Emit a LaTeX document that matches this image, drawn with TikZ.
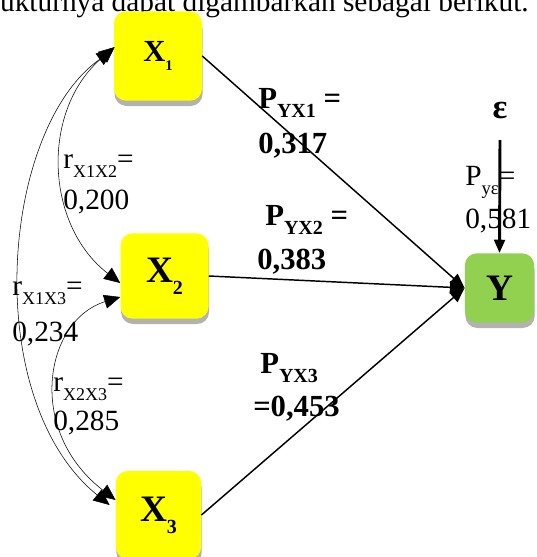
\documentclass[tikz,border=0pt]{standalone}
\usepackage{fontspec}
\setmainfont{Liberation Serif}
\usepackage{xcolor}
\usetikzlibrary{arrows.meta,shadows,calc}

\definecolor{boxyellow}{HTML}{FFFF00}
\definecolor{boxgreen}{HTML}{92D050}
\newcommand{\lsub}[2][15]{\raisebox{-0.32em}{\fontsize{#1}{#1}\selectfont #2}}

\begin{document}
\begin{tikzpicture}[
  x=0.75pt, y=-0.75pt,
  var/.style={fill=boxyellow, rounded corners=9pt, inner sep=0pt, align=center,
              minimum width=66pt, minimum height=66pt,
              font=\bfseries\fontsize{28}{28}\selectfont,
              drop shadow={shadow xshift=0.4pt, shadow yshift=-4pt, fill=black!30, opacity=1}},
  outvar/.style={var, fill=boxgreen, minimum width=52pt, minimum height=52pt},
  rlbl/.style={anchor=base west, inner sep=0pt, font=\fontsize{22}{22}\selectfont},
  plbl/.style={anchor=base west, inner sep=0pt, font=\bfseries\fontsize{23}{23}\selectfont},
  effect/.style={-{Triangle[length=11pt,width=9pt]}, line width=1.1pt},
  corr/.style={{Triangle[length=12pt,width=10.5pt]}-{Triangle[length=12pt,width=10.5pt]}, line width=0.4pt},
  errarr/.style={-{Triangle[length=10pt,width=8pt]}, line width=2.2pt},
]
\useasboundingbox (0,0) rectangle (536,557);

% --- text line above the figure (cut off) ---
\node[anchor=base east, inner sep=0pt, font=\fontsize{22}{22}\selectfont] (intro) at (529,11)
  {Strukturnya dapat digambarkan sebagai berikut.};

% --- variables ---
\node[var, font=\bfseries\fontsize{23}{23}\selectfont, minimum height=67pt] (X1) at (158,56)
  {X\lsub[11]{1}};
\node[var, minimum height=64pt] (X2) at (164.5,276) {X\lsub[15]{2}};
\node[var, minimum width=64pt] (X3) at (158.5,515) {X\lsub[15]{3}};
\node[outvar] (Y) at (499.5,288) {Y};
\node[inner sep=0pt, font=\bfseries\fontsize{26}{26}\selectfont] (eps) at (500,110) {ε};
\coordinate (epsbot) at (500,140);

% --- path coefficients ---
\node[plbl] (p1a) at (258,108) {P\lsub{YX1} =};
\node[plbl] (p1b) at (258,153) {0,317};
\node[plbl] (p2a) at (265,225) {P\lsub{YX2} =};
\node[plbl] (p2b) at (257,269) {0,383};
\node[plbl] (p3a) at (260,373) {P\lsub{YX3}};
\node[plbl] (p3b) at (253,416) {=0,453};
\node[rlbl] (pea) at (465,185) {P\lsub[14]{yε}=};
\node[rlbl] (peb) at (465,228) {0,581};

% --- correlations ---
\node[rlbl] (r12a) at (63,168) {r\lsub[13.5]{X1X2}=};
\node[rlbl] (r12b) at (63,209) {0,200};
\node[rlbl] (r13a) at (12,295) {r\lsub[13.5]{X1X3}=};
\node[rlbl] (r13b) at (12,341) {0,234};
\node[rlbl] (r23a) at (53,391) {r\lsub[13.5]{X2X3}=};
\node[rlbl] (r23b) at (53,430) {0,285};

% --- edges ---
\draw[effect] (X1.east) -- (Y.west);
\draw[effect] (X2.east) -- (Y.west);
\draw[effect] (X3.east) -- (Y.west);
\draw[errarr] (epsbot) -- (Y.north);

\draw[corr] ($(X1.west)+(1,-9)$) .. controls (40,110) and (45,225) .. ($(X2.west)+(0,7)$);
\draw[corr] ($(X1.west)+(-1,-6)$) .. controls (0,130) and (-20,400) .. ($(X3.west)+(-6,-10)$);
\draw[corr] ($(X2.west)+(0,21)$) .. controls (45,320) and (25,430) .. ($(X3.west)+(0,-15)$);

\end{tikzpicture}
\end{document}
